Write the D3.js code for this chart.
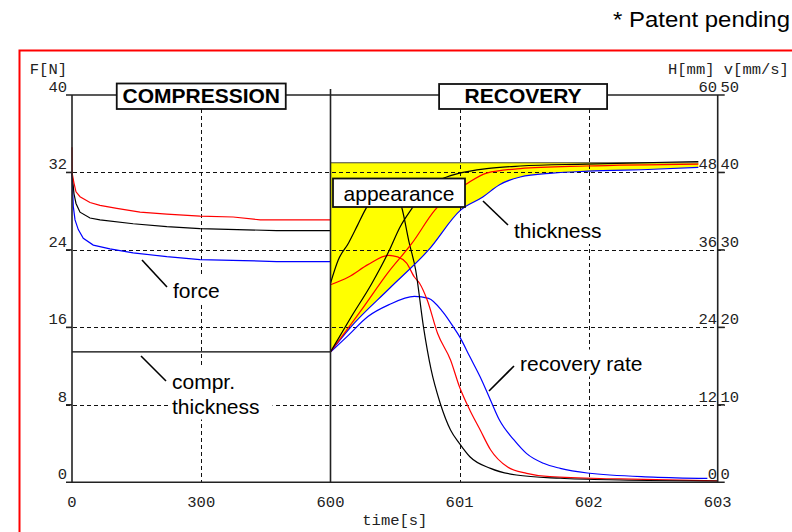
<!DOCTYPE html>
<html lang="en">
<head>
<meta charset="utf-8">
<title>Compression / recovery</title>
<script src="https://cdn.jsdelivr.net/npm/d3@7"></script>
<style>
  body { margin: 0; background: #fff; }
  svg { display: block; }
</style>
</head>
<body>
<svg width="792" height="532"></svg>
<script>
// compression phase: force F[N] over time [s]
const forceRed = [[0,34.6],[0.4,31.9],[4.6,30.9],[9.3,30.0],[18.6,29.5],[41.8,28.9],[65,28.6],[104,28.3],[158,27.9],[220,27.7],[297,27.5],[374,27.4],[437,27.1],[600,27.1]];
const forceBlack = [[0,31.9],[4.6,29.8],[9.3,28.8],[18.6,27.9],[41.8,27.3],[65,27.1],[142,26.7],[220,26.4],[297,26.2],[475,26.0],[600,26.0]];
const forceBlue = [[0,31.9],[3,28.5],[7,27.1],[14.6,26.1],[26.2,25.2],[49.4,24.5],[88,24.1],[142,23.7],[220,23.3],[297,23.0],[398,22.9],[475,22.8],[600,22.8]];
const comprThickness = [[0,20.2],[600,20.2]]; // H[mm]

// recovery phase: thickness H[mm]
const thickBlack = [[600,20.2],[600.16,25.6],[600.32,30.8],[600.45,35.7],[600.54,39.6],[600.63,42.4],[600.73,45.1],[600.83,46.7],[600.9,47.3],[601.0,47.9],[601.21,48.6],[601.47,49.0],[601.98,49.3],[602.85,49.7]];
const thickRed = [[600,20.2],[600.24,26.7],[600.45,32.6],[600.63,37.0],[600.81,42.2],[600.88,43.7],[601.06,46.3],[601.21,47.9],[601.47,48.6],[601.98,49.0],[602.85,49.3]];
const thickBlue = [[600,20.2],[600.15,23.9],[600.46,30.1],[600.76,36.0],[601.01,42.2],[601.18,44.2],[601.31,46.1],[601.47,47.3],[601.72,47.9],[601.99,48.2],[602.5,48.5],[602.85,48.8]];
const appearanceTop = 49.5; // H[mm], upper edge of the yellow band

// recovery rate v[mm/s]
const rateBlack = [[600,25.7],[600.06,28.7],[600.14,30.9],[600.21,33.2],[600.27,35.2],[600.35,37.2],[600.42,38.1],[600.48,37.7],[600.55,35.6],[600.61,30.9],[600.66,27.4],[600.72,20.1],[600.78,14.5],[600.85,10.2],[600.93,6.75],[601.0,5.0],[601.08,3.3],[601.24,1.8],[601.44,0.94],[601.78,0.52],[602.24,0.3],[603,0.17]];
const rateRed = [[600,25.5],[600.14,26.5],[600.29,28.1],[600.45,29.3],[600.52,29.1],[600.59,28.3],[600.65,26.5],[600.69,25.7],[600.75,23.5],[600.83,19.2],[600.93,15.8],[601.0,12.3],[601.08,9.3],[601.16,6.75],[601.24,4.2],[601.37,2.0],[601.52,1.16],[601.7,0.72],[602.24,0.43],[603,0.17]];
const rateBlue = [[600,16.8],[600.14,19.0],[600.29,21.4],[600.45,22.9],[600.65,24.0],[600.76,23.75],[600.87,22.0],[600.95,20.1],[601.0,18.8],[601.08,16.2],[601.16,13.6],[601.24,10.6],[601.31,8.0],[601.42,5.5],[601.52,3.7],[601.65,2.45],[601.78,1.8],[601.99,1.2],[602.5,0.68],[602.92,0.5]];

// tick labels
const fTicks = [0, 8, 16, 24, 32, 40];
const hTicks = [0, 12, 24, 36, 48, 60];
const vTicks = [0, 10, 20, 30, 40, 50];
const timeTicksLeft = [0, 300, 600];
const timeTicksRight = [601, 602, 603];

// plot box
const pLeft = 72, pRight = 717.7, pTop = 95, pBottom = 482.3, pMid = 330.5;

const svg = d3.select("svg");

const xL = d3.scaleLinear().domain([0, 600]).range([pLeft, pMid]);
const xR = d3.scaleLinear().domain([600, 603]).range([pMid, pRight]);
const yF = d3.scaleLinear().domain([0, 40]).range([pBottom, pTop]);
const yH = d3.scaleLinear().domain([0, 60]).range([pBottom, pTop]);
const yV = d3.scaleLinear().domain([0, 50]).range([pBottom, pTop]);

const mono = "'Liberation Mono', 'DejaVu Sans Mono', monospace";
const sans = "'Liberation Sans', Arial, sans-serif";
const axisColor = "#222";

// red frame + note
svg.append("rect")
  .attr("x", 19.5).attr("y", 50.5).attr("width", 800).attr("height", 482.5)
  .attr("fill", "none").attr("stroke", "#f00").attr("stroke-width", 2);

svg.append("text")
  .attr("x", 613).attr("y", 27)
  .attr("textLength", 177).attr("lengthAdjust", "spacingAndGlyphs")
  .style("font-family", sans).style("font-size", "22px")
  .text("* Patent pending");

// yellow band between blue thickness and the top value
svg.append("path")
  .datum(thickBlue)
  .attr("fill", "#ffff00")
  .attr("d", d3.area()
    .x(d => xR(d[0]))
    .y0(d => yH(d[1]))
    .y1(yH(appearanceTop))
    .curve(d3.curveMonotoneX));
svg.append("line")
  .attr("x1", xR(600)).attr("x2", xR(thickBlue[thickBlue.length - 1][0]))
  .attr("y1", yH(appearanceTop)).attr("y2", yH(appearanceTop))
  .attr("stroke", "#444").attr("stroke-width", 1);

// dashed grid
const grid = svg.append("g").attr("stroke", "#111").attr("stroke-width", 1).attr("stroke-dasharray", "4,3");
fTicks.slice(1, -1).forEach(v => {
  grid.append("line").attr("x1", pLeft - 6).attr("x2", pRight + 7)
    .attr("y1", Math.round(yF(v)) + 0.5).attr("y2", Math.round(yF(v)) + 0.5);
});
timeTicksLeft.slice(1, 2).forEach(t => {
  grid.append("line").attr("x1", Math.round(xL(t)) + 0.5).attr("x2", Math.round(xL(t)) + 0.5)
    .attr("y1", pTop).attr("y2", pBottom);
});
timeTicksRight.slice(0, 2).forEach(t => {
  grid.append("line").attr("x1", Math.round(xR(t)) + 0.5).attr("x2", Math.round(xR(t)) + 0.5)
    .attr("y1", pTop).attr("y2", pBottom);
});

// curves
const lineLeftF = d3.line().x(d => xL(d[0])).y(d => yF(d[1]));
const lineLeftH = d3.line().x(d => xL(d[0])).y(d => yH(d[1]));
const lineH = d3.line().x(d => xR(d[0])).y(d => yH(d[1])).curve(d3.curveMonotoneX);
const lineV = d3.line().x(d => xR(d[0])).y(d => yV(d[1])).curve(d3.curveMonotoneX);

const curves = [
  [forceBlue, lineLeftF, "#0000ff"],
  [forceBlack, lineLeftF, "#000"],
  [forceRed, lineLeftF, "#ff0000"],
  [comprThickness, lineLeftH, "#000"],
  [rateBlue, lineV, "#0000ff"],
  [rateRed, lineV, "#ff0000"],
  [rateBlack, lineV, "#000"],
  [thickBlue, lineH, "#0000ff"],
  [thickRed, lineH, "#ff0000"],
  [thickBlack, lineH, "#000"]
];
curves.forEach(([data, gen, color]) => {
  svg.append("path").datum(data)
    .attr("fill", "none").attr("stroke", color).attr("stroke-width", 1.2)
    .attr("d", gen);
});

// axes frame
const ax = svg.append("g").attr("stroke", axisColor).attr("stroke-width", 1.6);
ax.append("line").attr("x1", pLeft - 6).attr("x2", pRight + 7).attr("y1", pTop).attr("y2", pTop);
ax.append("line").attr("x1", pLeft - 6).attr("x2", pRight + 7).attr("y1", pBottom).attr("y2", pBottom);
ax.append("line").attr("x1", pLeft).attr("x2", pLeft).attr("y1", pTop).attr("y2", pBottom);
ax.append("line").attr("x1", pRight).attr("x2", pRight).attr("y1", pTop).attr("y2", pBottom);
ax.append("line").attr("x1", pMid).attr("x2", pMid).attr("y1", pTop - 6).attr("y2", pBottom);
fTicks.slice(1, -1).forEach(v => {
  ax.append("line").attr("x1", pLeft - 6).attr("x2", pLeft).attr("y1", yF(v)).attr("y2", yF(v));
  ax.append("line").attr("x1", pRight).attr("x2", pRight + 7).attr("y1", yF(v)).attr("y2", yF(v));
});

// tick labels in a thin fixed font
const tl = svg.append("g").style("font-family", mono).style("font-size", "15.5px").attr("fill", "#222");
function monoText(x, y, anchor, str) {
  tl.append("text").attr("x", x).attr("y", y).attr("text-anchor", anchor).text(str);
}
fTicks.forEach(v => monoText(67, yF(v) - 3, "end", v));
hTicks.forEach(v => monoText(717, yH(v) - 3, "end", v));
vTicks.forEach(v => monoText(720.5, yV(v) - 3, "start", v));
timeTicksLeft.forEach(t => monoText(xL(t), 507, "middle", t));
timeTicksRight.forEach(t => monoText(xR(t), 507, "middle", t));
monoText(67, 73.5, "end", "F[N]");
monoText(668, 73.5, "start", "H[mm] v[mm/s]");
monoText((pLeft + pRight) / 2, 525, "middle", "time[s]");

// boxed section titles
function boxed(text, cx, y0, w, h, bold, size, baseline) {
  svg.append("rect")
    .attr("x", cx - w / 2).attr("y", y0).attr("width", w).attr("height", h)
    .attr("fill", "#fff").attr("stroke", "#111").attr("stroke-width", 1.8);
  svg.append("text")
    .attr("x", cx).attr("y", baseline).attr("text-anchor", "middle")
    .style("font-family", sans).style("font-size", size + "px")
    .style("font-weight", bold ? "bold" : "normal")
    .text(text);
}
boxed("COMPRESSION", xL(300), 83.5, 169, 25.5, true, 21, 103);
boxed("RECOVERY", xR(601.5) - 1, 84, 168, 25, true, 21, 103);
boxed("appearance", 399, 178.5, 132, 28.5, false, 21, 200.5);

// annotations with leader lines
function note(lines, x, y, lineGap, leader) {
  const g = svg.append("g");
  const t = g.append("text").style("font-family", sans).style("font-size", "21px");
  lines.forEach((s, i) => {
    t.append("tspan").attr("x", x).attr("y", y + i * lineGap).text(s);
  });
  const b = t.node().getBBox();
  g.insert("rect", "text")
    .attr("x", b.x - 3).attr("y", b.y - 2).attr("width", b.width + 16).attr("height", b.height + 4)
    .attr("fill", "#fff");
  svg.append("line")
    .attr("x1", leader[0]).attr("y1", leader[1]).attr("x2", leader[2]).attr("y2", leader[3])
    .attr("stroke", "#000").attr("stroke-width", 1.6);
}
note(["force"], 173, 298, 0, [142, 260, 167, 287]);
note(["compr.", "thickness"], 172, 389, 24.5, [141, 356, 166, 381]);
note(["thickness"], 514, 238, 0, [483, 201, 508, 225]);
note(["recovery rate"], 520, 370.5, 0, [489, 391, 514, 366]);
</script>
</body>
</html>
